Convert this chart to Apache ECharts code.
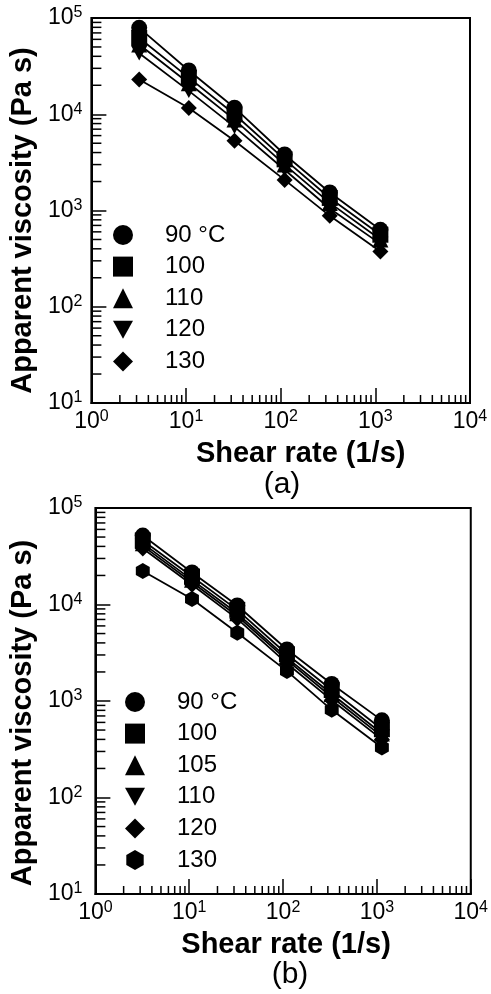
<!DOCTYPE html>
<html>
<head>
<meta charset="utf-8">
<script src="https://cdn.jsdelivr.net/npm/echarts@6/dist/echarts.min.js"></script>
<style>
  html, body { margin: 0; padding: 0; background: #fff; }
  #chart { width: 491px; height: 994px; }
</style>
</head>
<body>
<div id="chart"></div>
<script>
// shear rates (1/s), same in both panels
const shearRate = [3.2, 10.7, 32.5, 110, 330, 1130];

// panel (a) apparent viscosity (Pa s)
const namesA = ['90 °C', '100', '110', '120', '130'];
const viscA90 = [79000, 28500, 11700, 3820, 1540, 630];
const viscA100 = [62000, 24000, 10000, 3400, 1350, 560];
const viscA110 = [53000, 21000, 8800, 3000, 1200, 500];
const viscA120 = [43000, 17500, 7400, 2650, 1050, 450];
const viscA130 = [23000, 11600, 5300, 2080, 880, 375];

// panel (b)
const namesB = ['90 °C', '100', '105', '110', '120', '130'];
const viscB90 = [51800, 21500, 9770, 3420, 1500, 630];
const viscB100 = [46000, 19500, 8800, 3050, 1300, 510];
const viscB105 = [43000, 18000, 8100, 2800, 1180, 460];
const viscB110 = [40500, 17000, 7600, 2650, 1100, 430];
const viscB120 = [38000, 16000, 7100, 2450, 1020, 400];
const viscB130 = [22200, 11400, 5100, 2040, 810, 330];

// axis ranges as decade exponents
const xDecades = [0, 4];
const yDecades = [1, 5];
const minorSteps = [2, 3, 4, 5, 6, 7, 8, 9];

const FONT = '"Liberation Sans", Arial, Helvetica, sans-serif';
const downTri = 'path://M0,0L20,0L10,18Z';
const hexagon = 'path://M10,0L18.7,5L18.7,15L10,20L1.3,15L1.3,5Z';
const symbolsA = ['circle', 'rect', 'triangle', downTri, 'diamond'];
const symbolsB = ['circle', 'rect', 'triangle', downTri, 'diamond', hexagon];

const chart = echarts.init(document.getElementById('chart'));

function supLabel(v) {
    const e = Math.round(Math.log10(v));
    return '{b|10}{s|' + e + '}';
}

const labelRich = {
    b: { fontSize: 23, fontFamily: FONT, color: '#000', lineHeight: 26 },
    s: { fontSize: 16, fontFamily: FONT, color: '#000', lineHeight: 16, verticalAlign: 'top' }
};

function makeX(gridIndex, nameShift) {
    return {
        type: 'log',
        gridIndex: gridIndex,
        min: Math.pow(10, xDecades[0]),
        max: Math.pow(10, xDecades[1]),
        logBase: 10,
        name: 'Shear rate (1/s)',
        nameLocation: 'middle',
        nameGap: 36,
        nameTextStyle: {
            fontSize: 29, fontWeight: 'bold', fontFamily: FONT, color: '#000',
            padding: [0, 0, 0, nameShift]
        },
        axisLine: { show: true, lineStyle: { color: '#000', width: 2 } },
        axisTick: { show: true, inside: true, length: 15, lineStyle: { color: '#000', width: 1.5 } },
        axisLabel: { formatter: supLabel, rich: labelRich, margin: 6, showMinLabel: true, showMaxLabel: true },
        splitLine: { show: false }
    };
}

function makeY(gridIndex, labelMargin, nameGap, nameShift) {
    return {
        type: 'log',
        gridIndex: gridIndex,
        min: Math.pow(10, yDecades[0]),
        max: Math.pow(10, yDecades[1]),
        logBase: 10,
        name: 'Apparent viscosity (Pa s)',
        nameLocation: 'middle',
        nameGap: nameGap,
        nameTextStyle: {
            fontSize: 29, fontWeight: 'bold', fontFamily: FONT, color: '#000',
            padding: [0, nameShift, 0, 0]
        },
        axisLine: { show: true, lineStyle: { color: '#000', width: 2 } },
        axisTick: { show: true, inside: true, length: 15, lineStyle: { color: '#000', width: 1.5 } },
        axisLabel: { formatter: supLabel, rich: labelRich, margin: labelMargin, showMinLabel: true, showMaxLabel: true },
        splitLine: { show: false }
    };
}

// minor ticks at 2..9 x 10^k, placed through the axes
function minorTickData() {
    const out = [];
    for (let k = xDecades[0]; k < xDecades[1]; k++) {
        minorSteps.forEach(m => out.push([m * Math.pow(10, k), Math.pow(10, yDecades[0]), 0]));
    }
    for (let k = yDecades[0]; k < yDecades[1]; k++) {
        minorSteps.forEach(m => out.push([Math.pow(10, xDecades[0]), m * Math.pow(10, k), 1]));
    }
    return out;
}

function minorTickSeries(gridIndex) {
    return {
        type: 'custom',
        xAxisIndex: gridIndex,
        yAxisIndex: gridIndex,
        silent: true,
        clip: false,
        data: minorTickData(),
        renderItem: (params, api) => {
            const p = api.coord([api.value(0), api.value(1)]);
            const isY = api.value(2) === 1;
            const len = isY ? 10 : 8;
            return {
                type: 'line',
                shape: isY
                    ? { x1: p[0], y1: p[1], x2: p[0] + len, y2: p[1] }
                    : { x1: p[0], y1: p[1], x2: p[0], y2: p[1] - len },
                style: { stroke: '#000', lineWidth: 1.5 }
            };
        }
    };
}

function lineSeries(name, values, symbol, gridIndex) {
    return {
        name: name,
        type: 'line',
        xAxisIndex: gridIndex,
        yAxisIndex: gridIndex,
        data: values.map((v, i) => [shearRate[i], v]),
        symbol: symbol,
        symbolSize: 16,
        symbolKeepAspect: true,
        showAllSymbol: true,
        color: '#000',
        itemStyle: { color: '#000' },
        lineStyle: { color: '#000', width: 1.8 },
        z: 3
    };
}

function legendFor(names, symbols, left, top) {
    return {
        orient: 'vertical',
        left: left,
        top: top,
        itemWidth: 20,
        itemHeight: 20,
        itemGap: 7.6,
        selectedMode: false,
        padding: 0,
        data: names.map((n, i) => ({ name: n, icon: symbols[i], itemStyle: { color: '#000' } })),
        textStyle: { fontSize: 24, fontFamily: FONT, color: '#000', padding: [0, 0, 0, 27] }
    };
}

const seriesA = [viscA90, viscA100, viscA110, viscA120, viscA130];
const seriesB = [viscB90, viscB100, viscB105, viscB110, viscB120, viscB130];

const option = {
    backgroundColor: '#fff',
    animation: false,
    textStyle: { fontFamily: FONT },
    grid: [
        { left: 84, top: 18, width: 386, height: 385, show: true, borderColor: '#000', borderWidth: 2, backgroundColor: 'transparent' },
        { left: 95, top: 508, width: 385, height: 386, show: true, borderColor: '#000', borderWidth: 2, backgroundColor: 'transparent' }
    ],
    xAxis: [makeX(0, 40), makeX(1, 6)],
    yAxis: [makeY(0, 9, 46, 20), makeY(1, 13, 48, 24)],
    legend: [
        legendFor(namesA, symbolsA, 113, 223),
        legendFor(namesB, symbolsB, 125, 690)
    ],
    graphic: [
        { type: 'text', x: 282, y: 485, style: { text: '(a)', font: '30px ' + FONT, fill: '#000', align: 'center', verticalAlign: 'middle' } },
        { type: 'text', x: 290, y: 975, style: { text: '(b)', font: '30px ' + FONT, fill: '#000', align: 'center', verticalAlign: 'middle' } }
    ],
    series: [
        ...seriesA.map((vals, i) => lineSeries(namesA[i], vals, symbolsA[i], 0)),
        ...seriesB.map((vals, i) => lineSeries(namesB[i], vals, symbolsB[i], 1)),
        minorTickSeries(0),
        minorTickSeries(1)
    ]
};

chart.setOption(option);
</script>
</body>
</html>
